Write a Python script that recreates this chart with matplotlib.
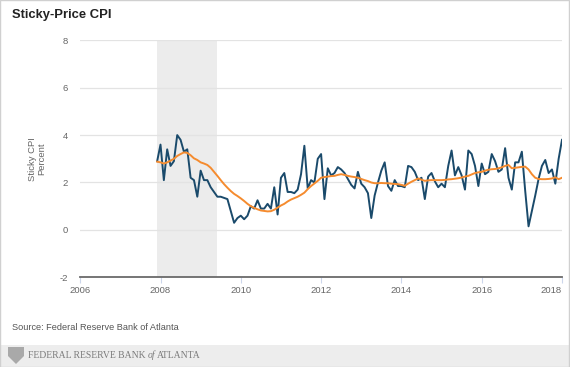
import numpy as np
import matplotlib
matplotlib.use("Agg")
import matplotlib.pyplot as plt
from matplotlib.patches import Rectangle, Polygon

# ---- data (monthly, Dec 2007 .. Jan 2018) ----
start_year = 2007
start_month = 12
sticky_1m = [
    2.9, 3.6, 2.1, 3.4, 2.7, 2.9, 4.0, 3.8, 3.3, 3.4,
    2.2, 2.1, 1.4, 2.5, 2.1, 2.1, 1.8, 1.6, 1.4, 1.4,
    1.35, 1.3, 0.8, 0.3, 0.5, 0.6, 0.45, 0.6, 1.0, 0.9,
    1.25, 0.9, 0.9, 1.1, 0.9, 1.8, 0.65, 2.2, 2.4, 1.6,
    1.6, 1.55, 1.7, 2.35, 3.55, 1.75, 2.1, 2.0, 3.0, 3.2,
    1.3, 2.6, 2.3, 2.4, 2.65, 2.55, 2.4, 2.15, 1.9, 1.75,
    2.45, 1.95, 1.8, 1.55, 0.5, 1.45, 2.0, 2.5, 2.85, 1.85,
    1.65, 2.1, 1.85, 1.85, 1.8, 2.7, 2.65, 2.45, 2.1, 2.2,
    1.3, 2.25, 2.4, 2.05, 1.8, 1.95, 1.8, 2.7, 3.35, 2.3,
    2.65, 2.3, 1.7, 3.35, 3.2, 2.7, 1.85, 2.8, 2.35, 2.45,
    3.2, 2.9, 2.45, 2.55, 3.45, 2.2, 1.7, 2.85, 2.85, 3.3,
    1.65, 0.15, 0.8, 1.45, 2.15, 2.7, 2.95, 2.4, 2.55, 1.95,
    3.0, 3.8,
]
sticky_12m = [
    2.88, 2.85, 2.8, 2.85, 2.92, 3.0, 3.12, 3.2, 3.27, 3.25,
    3.15, 3.02, 2.95, 2.85, 2.8, 2.74, 2.62, 2.45, 2.28, 2.1,
    1.93, 1.78, 1.64, 1.52, 1.43, 1.33, 1.22, 1.1, 1.0, 0.93,
    0.87, 0.82, 0.8, 0.78, 0.79, 0.85, 0.94, 1.03, 1.1, 1.2,
    1.28, 1.34, 1.4, 1.48, 1.57, 1.72, 1.85, 1.96, 2.07, 2.2,
    2.23, 2.25, 2.27, 2.28, 2.32, 2.35, 2.32, 2.28, 2.25, 2.23,
    2.2, 2.15, 2.1, 2.06, 2.0, 1.97, 1.97, 1.98, 1.97, 1.97,
    1.95, 1.94, 1.93, 1.9, 1.86, 1.95, 2.03, 2.1, 2.17, 2.12,
    2.07, 2.09, 2.1, 2.1, 2.1, 2.1, 2.11, 2.13, 2.14, 2.16,
    2.18, 2.21, 2.25, 2.28, 2.34, 2.4, 2.43, 2.45, 2.5, 2.54,
    2.56, 2.57, 2.6, 2.64, 2.7, 2.74, 2.6, 2.62, 2.64, 2.66,
    2.67, 2.55, 2.35, 2.2, 2.15, 2.14, 2.14, 2.15, 2.17, 2.22,
    2.14, 2.2,
]
recession = (2007 + 11 / 12, 2009 + 5 / 12)
x_ticks = [2006, 2008, 2010, 2012, 2014, 2016, 2018]
y_ticks = [-2, 0, 2, 4, 6, 8]

dates = start_year + (start_month - 1) / 12 + np.arange(len(sticky_1m)) / 12

W, H = 570, 367
fig = plt.figure(figsize=(W / 100, H / 100), dpi=100)
fig.patch.set_facecolor("white")

def fx(px):
    return px / W

def fy(py):
    return 1 - py / H

left, right, top, bottom = 80.2, 562.0, 40.3, 277.3
ax = fig.add_axes([fx(left), fy(bottom), fx(right - left), (bottom - top) / H])
ax.set_facecolor("white")

ax.axvspan(recession[0], recession[1], color="#ececec", lw=0, zorder=0)
for yv in y_ticks[1:]:
    ax.axhline(yv, color="#e3e3e3", lw=0.9, zorder=1)

ax.plot(dates, sticky_1m, color="#1a4a6b", lw=1.4, zorder=3, solid_joinstyle="round")
ax.plot(dates, sticky_12m, color="#f58b2e", lw=1.4, zorder=4, solid_joinstyle="round")

ax.set_xlim(2006, dates[-1])
ax.set_ylim(-2, 8)
ax.set_xticks(x_ticks)
ax.set_yticks(y_ticks)
ax.set_xticklabels([str(v) for v in x_ticks])
ax.set_yticklabels([str(v) for v in y_ticks])

for s in ["top", "right", "left"]:
    ax.spines[s].set_visible(False)
ax.spines["bottom"].set_color("#6a6a6a")
ax.spines["bottom"].set_linewidth(1.3)
ax.spines["bottom"].set_zorder(5)

ax.tick_params(axis="x", colors="#ccd6eb", length=4.5, width=0.8, pad=2,
               labelcolor="#666666", labelsize=6.8)
ax.tick_params(axis="y", length=0, pad=9, labelcolor="#666666", labelsize=6.8)
for lab in ax.get_xticklabels() + ax.get_yticklabels():
    lab.set_fontfamily("Liberation Sans")
ax.get_xticklabels()[-1].set_horizontalalignment("right")

ax.set_ylabel("Sticky CPI\nPercent", fontsize=6.8, color="#666666",
              family="Liberation Sans", labelpad=9, linespacing=1.1)

# title & source
fig.text(fx(12), fy(15), "Sticky-Price CPI", fontsize=9.4, fontweight="bold",
         family="Liberation Sans", color="#222222", va="center", ha="left")
fig.text(fx(12.5), fy(327), "Source: Federal Reserve Bank of Atlanta", fontsize=6.55,
         family="Liberation Sans", color="#555555", va="center", ha="left")

# footer band
fig.patches.append(Rectangle((0, 0), 1, fy(344.5), transform=fig.transFigure,
                             facecolor="#ededed", edgecolor="none", zorder=0))
# simple logo
logo = [(8, 347), (24, 347), (24, 356), (16, 364), (8, 356)]
fig.patches.append(Polygon([(fx(a), fy(b)) for a, b in logo], closed=True,
                           transform=fig.transFigure, facecolor="#a9a9a9",
                           edgecolor="none", zorder=1))

fig.canvas.draw()
r = fig.canvas.get_renderer()
x0 = fx(28)
yb = fy(355.5)
fsz = 6.9
t1 = fig.text(x0, yb, "FEDERAL RESERVE BANK ", fontsize=fsz, family="Liberation Serif",
              color="#7a7a7a", va="center", ha="left")
bb = t1.get_window_extent(r)
t2 = fig.text(bb.x1 / fig.bbox.width, yb, "of", fontsize=fsz, family="Liberation Serif",
              style="italic", color="#7a7a7a", va="center", ha="left")
bb2 = t2.get_window_extent(r)
fig.text(bb2.x1 / fig.bbox.width + 0.003, yb, "ATLANTA", fontsize=fsz,
         family="Liberation Serif", color="#7a7a7a", va="center", ha="left")

# outer border
fig.patches.append(Rectangle((0.0005, 0.001), 0.998, 0.998, transform=fig.transFigure,
                             facecolor="none", edgecolor="#d0d0d0", lw=1.0, zorder=10))

fig.savefig("out.png", dpi=100)
